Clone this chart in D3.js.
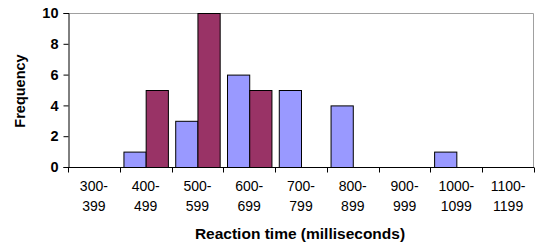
<!DOCTYPE html>
<html><head><meta charset="utf-8">
<script src="https://cdn.jsdelivr.net/npm/d3@7"></script>
<style>
body{margin:0;background:#fff;}
svg{display:block;}
text{font-family:"Liberation Sans",Arial,sans-serif;fill:#000;}
</style></head>
<body><svg id="c" width="540" height="245"></svg>
<script>
const categories = ["300-399","400-499","500-599","600-699","700-799","800-899","900-999","1000-1099","1100-1199"];
const seriesA = [0,1,3,6,5,4,0,1,0];
const seriesB = [0,5,10,5,0,0,0,0,0];
const yTicks = [0,2,4,6,8,10];

const svg = d3.select("#c");
const L=68, R=534, T=13, B=167;
const x = d3.scaleBand().domain(categories).range([L,R]).paddingInner(0).paddingOuter(0);
const y = d3.scaleLinear().domain([0,10]).range([B,T]);
const inner = d3.scaleBand().domain(["A","B"]).range([0,x.bandwidth()]).paddingInner(0).paddingOuter(0.165);

svg.append("path").attr("d",`M${L},${T+0.5}H${R-0.5}V${B}`).attr("fill","none").attr("stroke","#a0a0a0").attr("stroke-width",1);

const series=[{k:"A",v:seriesA,c:"#9999FF"},{k:"B",v:seriesB,c:"#993366"}];
series.forEach(s=>{
  svg.append("g").selectAll("rect").data(categories.map((c,i)=>({c,v:s.v[i]})).filter(d=>d.v>0))
   .join("rect")
   .attr("x",d=>x(d.c)+inner(s.k)+0.5)
   .attr("y",d=>y(d.v)+0.5)
   .attr("width",inner.bandwidth())
   .attr("height",d=>B-y(d.v))
   .attr("fill",s.c).attr("stroke","#000").attr("stroke-width",1);
});

const ya = svg.append("g").attr("transform",`translate(${L+0.5},0)`)
  .call(d3.axisLeft(y).tickValues(yTicks).tickSize(5).tickPadding(5));
ya.select(".domain").attr("stroke","#000");
ya.selectAll("text").attr("font-size","14.5px").attr("font-weight","bold").attr("font-family","Liberation Sans, Arial, sans-serif");

const xa = svg.append("g").attr("transform",`translate(0,${B+0.5})`);
xa.append("line").attr("x1",L).attr("x2",R).attr("stroke","#000");
const bounds = categories.map(c=>x(c)).concat([x(categories[categories.length-1])+x.bandwidth()]);
xa.selectAll("line.t").data(bounds).join("line").attr("class","t")
  .attr("x1",d=>Math.round(d)+0.5).attr("x2",d=>Math.round(d)+0.5).attr("y1",0).attr("y2",5).attr("stroke","#000");
const lab = xa.selectAll("text").data(categories).join("text")
  .attr("text-anchor","middle").attr("font-size","14px")
  .attr("transform",d=>`translate(${x(d)+x.bandwidth()/2},0)`);
lab.append("tspan").attr("x",0).attr("y",23).text(d=>d.split("-")[0]+"-");
lab.append("tspan").attr("x",0).attr("y",43).text(d=>d.split("-")[1]);

svg.append("text").attr("x",300).attr("y",239).attr("text-anchor","middle")
  .attr("font-size","15.5px").attr("font-weight","bold").text("Reaction time (milliseconds)");
svg.append("text").attr("transform","translate(25,91) rotate(-90)").attr("text-anchor","middle")
  .attr("font-size","14.5px").attr("font-weight","bold").text("Frequency");
</script></body></html>
